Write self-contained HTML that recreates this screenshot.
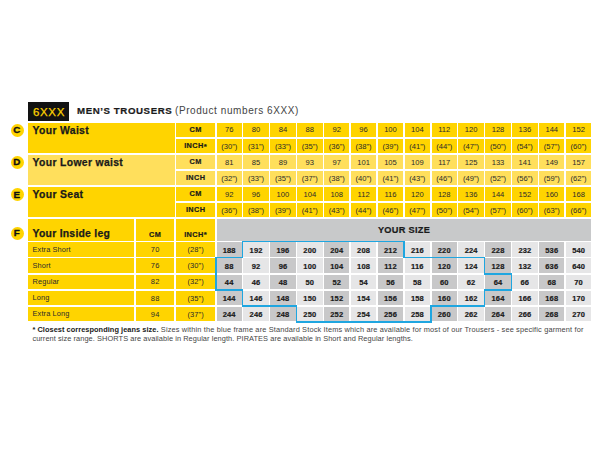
<!DOCTYPE html>
<html><head><meta charset="utf-8"><style>
html,body{margin:0;padding:0;background:#fff;width:610px;height:450px;overflow:hidden;}
body{position:relative;font-family:"Liberation Sans",sans-serif;}
div{position:absolute;}
.t{line-height:0;white-space:nowrap;}
.t b{font-weight:700;color:#1A1A1A;letter-spacing:0.05px;}
sup{font-size:1.05em;vertical-align:0;position:relative;top:0.08em;}
.c{width:12.9px;height:12.9px;border-radius:50%;background:#FFD400;}
</style></head><body>
<div style="left:28.00px;top:102.00px;width:41.00px;height:18.50px;background:#121212;"></div>
<div class="t" style="left:-151.00px;width:400px;text-align:center;top:112.02px;font-size:11.5px;font-weight:400;color:#FFD400;letter-spacing:0.6px;-webkit-text-stroke:0.25px #FFD400;">6XXX</div>
<div class="t" style="left:77.00px;top:110.94px;font-size:9.7px;font-weight:700;color:#1A1A1A;letter-spacing:0.58px;-webkit-text-stroke:0.2px #1A1A1A;">MEN&#8217;S TROUSERS</div>
<div class="t" style="left:175.00px;top:110.73px;font-size:10px;font-weight:400;color:#444444;letter-spacing:0.58px;">(Product numbers 6XXX)</div>
<div class="c" style="left:10.85px;top:123.85px;"></div>
<div class="t" style="left:-183.30px;width:400px;text-align:center;top:130.30px;font-size:9.8px;font-weight:700;color:#111;letter-spacing:0px;-webkit-text-stroke:0.35px #111;">C</div>
<div class="c" style="left:10.85px;top:155.95px;"></div>
<div class="t" style="left:-183.30px;width:400px;text-align:center;top:162.40px;font-size:9.8px;font-weight:700;color:#111;letter-spacing:0px;-webkit-text-stroke:0.35px #111;">D</div>
<div class="c" style="left:10.85px;top:188.15px;"></div>
<div class="t" style="left:-183.30px;width:400px;text-align:center;top:194.60px;font-size:9.8px;font-weight:700;color:#111;letter-spacing:0px;-webkit-text-stroke:0.35px #111;">E</div>
<div class="c" style="left:10.85px;top:226.85px;"></div>
<div class="t" style="left:-183.30px;width:400px;text-align:center;top:233.30px;font-size:9.8px;font-weight:700;color:#111;letter-spacing:0px;-webkit-text-stroke:0.35px #111;">F</div>
<div style="left:28.00px;top:122.50px;width:146.50px;height:30.45px;background:#FFD400;"></div>
<div class="t" style="left:32.60px;top:130.80px;font-size:10.4px;font-weight:700;color:#1A1A1A;letter-spacing:0.33px;-webkit-text-stroke:0.25px #1A1A1A;">Your Waist</div>
<div style="left:176.20px;top:122.50px;width:38.80px;height:14.40px;background:#FFD400;"></div>
<div class="t" style="left:-4.40px;width:400px;text-align:center;top:129.87px;font-size:7.3px;font-weight:700;color:#1A1A1A;letter-spacing:0.4px;-webkit-text-stroke:0.2px #1A1A1A;">CM</div>
<div style="left:216.50px;top:122.50px;width:25.40px;height:14.40px;background:#FFD400;"></div>
<div class="t" style="left:29.20px;width:400px;text-align:center;top:130.47px;font-size:7.6px;font-weight:400;color:#2B2B2B;letter-spacing:0px;">76</div>
<div style="left:243.38px;top:122.50px;width:25.40px;height:14.40px;background:#FFD400;"></div>
<div class="t" style="left:56.08px;width:400px;text-align:center;top:130.47px;font-size:7.6px;font-weight:400;color:#2B2B2B;letter-spacing:0px;">80</div>
<div style="left:270.26px;top:122.50px;width:25.40px;height:14.40px;background:#FFD400;"></div>
<div class="t" style="left:82.96px;width:400px;text-align:center;top:130.47px;font-size:7.6px;font-weight:400;color:#2B2B2B;letter-spacing:0px;">84</div>
<div style="left:297.14px;top:122.50px;width:25.40px;height:14.40px;background:#FFD400;"></div>
<div class="t" style="left:109.84px;width:400px;text-align:center;top:130.47px;font-size:7.6px;font-weight:400;color:#2B2B2B;letter-spacing:0px;">88</div>
<div style="left:324.02px;top:122.50px;width:25.40px;height:14.40px;background:#FFD400;"></div>
<div class="t" style="left:136.72px;width:400px;text-align:center;top:130.47px;font-size:7.6px;font-weight:400;color:#2B2B2B;letter-spacing:0px;">92</div>
<div style="left:350.90px;top:122.50px;width:25.40px;height:14.40px;background:#FFD400;"></div>
<div class="t" style="left:163.60px;width:400px;text-align:center;top:130.47px;font-size:7.6px;font-weight:400;color:#2B2B2B;letter-spacing:0px;">96</div>
<div style="left:377.78px;top:122.50px;width:25.40px;height:14.40px;background:#FFD400;"></div>
<div class="t" style="left:190.48px;width:400px;text-align:center;top:130.47px;font-size:7.6px;font-weight:400;color:#2B2B2B;letter-spacing:0px;">100</div>
<div style="left:404.66px;top:122.50px;width:25.40px;height:14.40px;background:#FFD400;"></div>
<div class="t" style="left:217.36px;width:400px;text-align:center;top:130.47px;font-size:7.6px;font-weight:400;color:#2B2B2B;letter-spacing:0px;">104</div>
<div style="left:431.54px;top:122.50px;width:25.40px;height:14.40px;background:#FFD400;"></div>
<div class="t" style="left:244.24px;width:400px;text-align:center;top:130.47px;font-size:7.6px;font-weight:400;color:#2B2B2B;letter-spacing:0px;">112</div>
<div style="left:458.42px;top:122.50px;width:25.40px;height:14.40px;background:#FFD400;"></div>
<div class="t" style="left:271.12px;width:400px;text-align:center;top:130.47px;font-size:7.6px;font-weight:400;color:#2B2B2B;letter-spacing:0px;">120</div>
<div style="left:485.30px;top:122.50px;width:25.40px;height:14.40px;background:#FFD400;"></div>
<div class="t" style="left:298.00px;width:400px;text-align:center;top:130.47px;font-size:7.6px;font-weight:400;color:#2B2B2B;letter-spacing:0px;">128</div>
<div style="left:512.18px;top:122.50px;width:25.40px;height:14.40px;background:#FFD400;"></div>
<div class="t" style="left:324.88px;width:400px;text-align:center;top:130.47px;font-size:7.6px;font-weight:400;color:#2B2B2B;letter-spacing:0px;">136</div>
<div style="left:539.06px;top:122.50px;width:25.40px;height:14.40px;background:#FFD400;"></div>
<div class="t" style="left:351.76px;width:400px;text-align:center;top:130.47px;font-size:7.6px;font-weight:400;color:#2B2B2B;letter-spacing:0px;">144</div>
<div style="left:565.94px;top:122.50px;width:25.40px;height:14.40px;background:#FFD400;"></div>
<div class="t" style="left:378.64px;width:400px;text-align:center;top:130.47px;font-size:7.6px;font-weight:400;color:#2B2B2B;letter-spacing:0px;">152</div>
<div style="left:176.20px;top:138.55px;width:38.80px;height:14.40px;background:#FFD400;"></div>
<div class="t" style="left:-4.40px;width:400px;text-align:center;top:145.92px;font-size:7.3px;font-weight:700;color:#1A1A1A;letter-spacing:0.4px;-webkit-text-stroke:0.2px #1A1A1A;">INCH<sup>*</sup></div>
<div style="left:216.50px;top:138.55px;width:25.40px;height:14.40px;background:#FFD400;"></div>
<div class="t" style="left:29.20px;width:400px;text-align:center;top:146.52px;font-size:7.6px;font-weight:400;color:#2B2B2B;letter-spacing:0px;">(30&#8221;)</div>
<div style="left:243.38px;top:138.55px;width:25.40px;height:14.40px;background:#FFD400;"></div>
<div class="t" style="left:56.08px;width:400px;text-align:center;top:146.52px;font-size:7.6px;font-weight:400;color:#2B2B2B;letter-spacing:0px;">(31&#8221;)</div>
<div style="left:270.26px;top:138.55px;width:25.40px;height:14.40px;background:#FFD400;"></div>
<div class="t" style="left:82.96px;width:400px;text-align:center;top:146.52px;font-size:7.6px;font-weight:400;color:#2B2B2B;letter-spacing:0px;">(33&#8221;)</div>
<div style="left:297.14px;top:138.55px;width:25.40px;height:14.40px;background:#FFD400;"></div>
<div class="t" style="left:109.84px;width:400px;text-align:center;top:146.52px;font-size:7.6px;font-weight:400;color:#2B2B2B;letter-spacing:0px;">(35&#8221;)</div>
<div style="left:324.02px;top:138.55px;width:25.40px;height:14.40px;background:#FFD400;"></div>
<div class="t" style="left:136.72px;width:400px;text-align:center;top:146.52px;font-size:7.6px;font-weight:400;color:#2B2B2B;letter-spacing:0px;">(36&#8221;)</div>
<div style="left:350.90px;top:138.55px;width:25.40px;height:14.40px;background:#FFD400;"></div>
<div class="t" style="left:163.60px;width:400px;text-align:center;top:146.52px;font-size:7.6px;font-weight:400;color:#2B2B2B;letter-spacing:0px;">(38&#8221;)</div>
<div style="left:377.78px;top:138.55px;width:25.40px;height:14.40px;background:#FFD400;"></div>
<div class="t" style="left:190.48px;width:400px;text-align:center;top:146.52px;font-size:7.6px;font-weight:400;color:#2B2B2B;letter-spacing:0px;">(39&#8221;)</div>
<div style="left:404.66px;top:138.55px;width:25.40px;height:14.40px;background:#FFD400;"></div>
<div class="t" style="left:217.36px;width:400px;text-align:center;top:146.52px;font-size:7.6px;font-weight:400;color:#2B2B2B;letter-spacing:0px;">(41&#8221;)</div>
<div style="left:431.54px;top:138.55px;width:25.40px;height:14.40px;background:#FFD400;"></div>
<div class="t" style="left:244.24px;width:400px;text-align:center;top:146.52px;font-size:7.6px;font-weight:400;color:#2B2B2B;letter-spacing:0px;">(44&#8221;)</div>
<div style="left:458.42px;top:138.55px;width:25.40px;height:14.40px;background:#FFD400;"></div>
<div class="t" style="left:271.12px;width:400px;text-align:center;top:146.52px;font-size:7.6px;font-weight:400;color:#2B2B2B;letter-spacing:0px;">(47&#8221;)</div>
<div style="left:485.30px;top:138.55px;width:25.40px;height:14.40px;background:#FFD400;"></div>
<div class="t" style="left:298.00px;width:400px;text-align:center;top:146.52px;font-size:7.6px;font-weight:400;color:#2B2B2B;letter-spacing:0px;">(50&#8221;)</div>
<div style="left:512.18px;top:138.55px;width:25.40px;height:14.40px;background:#FFD400;"></div>
<div class="t" style="left:324.88px;width:400px;text-align:center;top:146.52px;font-size:7.6px;font-weight:400;color:#2B2B2B;letter-spacing:0px;">(54&#8221;)</div>
<div style="left:539.06px;top:138.55px;width:25.40px;height:14.40px;background:#FFD400;"></div>
<div class="t" style="left:351.76px;width:400px;text-align:center;top:146.52px;font-size:7.6px;font-weight:400;color:#2B2B2B;letter-spacing:0px;">(57&#8221;)</div>
<div style="left:565.94px;top:138.55px;width:25.40px;height:14.40px;background:#FFD400;"></div>
<div class="t" style="left:378.64px;width:400px;text-align:center;top:146.52px;font-size:7.6px;font-weight:400;color:#2B2B2B;letter-spacing:0px;">(60&#8221;)</div>
<div style="left:28.00px;top:154.60px;width:146.50px;height:30.45px;background:#FFDF5C;"></div>
<div class="t" style="left:32.60px;top:162.90px;font-size:10.4px;font-weight:700;color:#1A1A1A;letter-spacing:0.33px;-webkit-text-stroke:0.25px #1A1A1A;">Your Lower waist</div>
<div style="left:176.20px;top:154.60px;width:38.80px;height:14.40px;background:#FFDF5C;"></div>
<div class="t" style="left:-4.40px;width:400px;text-align:center;top:161.97px;font-size:7.3px;font-weight:700;color:#1A1A1A;letter-spacing:0.4px;-webkit-text-stroke:0.2px #1A1A1A;">CM</div>
<div style="left:216.50px;top:154.60px;width:25.40px;height:14.40px;background:#FFDF5C;"></div>
<div class="t" style="left:29.20px;width:400px;text-align:center;top:162.57px;font-size:7.6px;font-weight:400;color:#2B2B2B;letter-spacing:0px;">81</div>
<div style="left:243.38px;top:154.60px;width:25.40px;height:14.40px;background:#FFDF5C;"></div>
<div class="t" style="left:56.08px;width:400px;text-align:center;top:162.57px;font-size:7.6px;font-weight:400;color:#2B2B2B;letter-spacing:0px;">85</div>
<div style="left:270.26px;top:154.60px;width:25.40px;height:14.40px;background:#FFDF5C;"></div>
<div class="t" style="left:82.96px;width:400px;text-align:center;top:162.57px;font-size:7.6px;font-weight:400;color:#2B2B2B;letter-spacing:0px;">89</div>
<div style="left:297.14px;top:154.60px;width:25.40px;height:14.40px;background:#FFDF5C;"></div>
<div class="t" style="left:109.84px;width:400px;text-align:center;top:162.57px;font-size:7.6px;font-weight:400;color:#2B2B2B;letter-spacing:0px;">93</div>
<div style="left:324.02px;top:154.60px;width:25.40px;height:14.40px;background:#FFDF5C;"></div>
<div class="t" style="left:136.72px;width:400px;text-align:center;top:162.57px;font-size:7.6px;font-weight:400;color:#2B2B2B;letter-spacing:0px;">97</div>
<div style="left:350.90px;top:154.60px;width:25.40px;height:14.40px;background:#FFDF5C;"></div>
<div class="t" style="left:163.60px;width:400px;text-align:center;top:162.57px;font-size:7.6px;font-weight:400;color:#2B2B2B;letter-spacing:0px;">101</div>
<div style="left:377.78px;top:154.60px;width:25.40px;height:14.40px;background:#FFDF5C;"></div>
<div class="t" style="left:190.48px;width:400px;text-align:center;top:162.57px;font-size:7.6px;font-weight:400;color:#2B2B2B;letter-spacing:0px;">105</div>
<div style="left:404.66px;top:154.60px;width:25.40px;height:14.40px;background:#FFDF5C;"></div>
<div class="t" style="left:217.36px;width:400px;text-align:center;top:162.57px;font-size:7.6px;font-weight:400;color:#2B2B2B;letter-spacing:0px;">109</div>
<div style="left:431.54px;top:154.60px;width:25.40px;height:14.40px;background:#FFDF5C;"></div>
<div class="t" style="left:244.24px;width:400px;text-align:center;top:162.57px;font-size:7.6px;font-weight:400;color:#2B2B2B;letter-spacing:0px;">117</div>
<div style="left:458.42px;top:154.60px;width:25.40px;height:14.40px;background:#FFDF5C;"></div>
<div class="t" style="left:271.12px;width:400px;text-align:center;top:162.57px;font-size:7.6px;font-weight:400;color:#2B2B2B;letter-spacing:0px;">125</div>
<div style="left:485.30px;top:154.60px;width:25.40px;height:14.40px;background:#FFDF5C;"></div>
<div class="t" style="left:298.00px;width:400px;text-align:center;top:162.57px;font-size:7.6px;font-weight:400;color:#2B2B2B;letter-spacing:0px;">133</div>
<div style="left:512.18px;top:154.60px;width:25.40px;height:14.40px;background:#FFDF5C;"></div>
<div class="t" style="left:324.88px;width:400px;text-align:center;top:162.57px;font-size:7.6px;font-weight:400;color:#2B2B2B;letter-spacing:0px;">141</div>
<div style="left:539.06px;top:154.60px;width:25.40px;height:14.40px;background:#FFDF5C;"></div>
<div class="t" style="left:351.76px;width:400px;text-align:center;top:162.57px;font-size:7.6px;font-weight:400;color:#2B2B2B;letter-spacing:0px;">149</div>
<div style="left:565.94px;top:154.60px;width:25.40px;height:14.40px;background:#FFDF5C;"></div>
<div class="t" style="left:378.64px;width:400px;text-align:center;top:162.57px;font-size:7.6px;font-weight:400;color:#2B2B2B;letter-spacing:0px;">157</div>
<div style="left:176.20px;top:170.65px;width:38.80px;height:14.40px;background:#FFDF5C;"></div>
<div class="t" style="left:-4.40px;width:400px;text-align:center;top:178.02px;font-size:7.3px;font-weight:700;color:#1A1A1A;letter-spacing:0.4px;-webkit-text-stroke:0.2px #1A1A1A;">INCH</div>
<div style="left:216.50px;top:170.65px;width:25.40px;height:14.40px;background:#FFDF5C;"></div>
<div class="t" style="left:29.20px;width:400px;text-align:center;top:178.62px;font-size:7.6px;font-weight:400;color:#2B2B2B;letter-spacing:0px;">(32&#8221;)</div>
<div style="left:243.38px;top:170.65px;width:25.40px;height:14.40px;background:#FFDF5C;"></div>
<div class="t" style="left:56.08px;width:400px;text-align:center;top:178.62px;font-size:7.6px;font-weight:400;color:#2B2B2B;letter-spacing:0px;">(33&#8221;)</div>
<div style="left:270.26px;top:170.65px;width:25.40px;height:14.40px;background:#FFDF5C;"></div>
<div class="t" style="left:82.96px;width:400px;text-align:center;top:178.62px;font-size:7.6px;font-weight:400;color:#2B2B2B;letter-spacing:0px;">(35&#8221;)</div>
<div style="left:297.14px;top:170.65px;width:25.40px;height:14.40px;background:#FFDF5C;"></div>
<div class="t" style="left:109.84px;width:400px;text-align:center;top:178.62px;font-size:7.6px;font-weight:400;color:#2B2B2B;letter-spacing:0px;">(37&#8221;)</div>
<div style="left:324.02px;top:170.65px;width:25.40px;height:14.40px;background:#FFDF5C;"></div>
<div class="t" style="left:136.72px;width:400px;text-align:center;top:178.62px;font-size:7.6px;font-weight:400;color:#2B2B2B;letter-spacing:0px;">(38&#8221;)</div>
<div style="left:350.90px;top:170.65px;width:25.40px;height:14.40px;background:#FFDF5C;"></div>
<div class="t" style="left:163.60px;width:400px;text-align:center;top:178.62px;font-size:7.6px;font-weight:400;color:#2B2B2B;letter-spacing:0px;">(40&#8221;)</div>
<div style="left:377.78px;top:170.65px;width:25.40px;height:14.40px;background:#FFDF5C;"></div>
<div class="t" style="left:190.48px;width:400px;text-align:center;top:178.62px;font-size:7.6px;font-weight:400;color:#2B2B2B;letter-spacing:0px;">(41&#8221;)</div>
<div style="left:404.66px;top:170.65px;width:25.40px;height:14.40px;background:#FFDF5C;"></div>
<div class="t" style="left:217.36px;width:400px;text-align:center;top:178.62px;font-size:7.6px;font-weight:400;color:#2B2B2B;letter-spacing:0px;">(43&#8221;)</div>
<div style="left:431.54px;top:170.65px;width:25.40px;height:14.40px;background:#FFDF5C;"></div>
<div class="t" style="left:244.24px;width:400px;text-align:center;top:178.62px;font-size:7.6px;font-weight:400;color:#2B2B2B;letter-spacing:0px;">(46&#8221;)</div>
<div style="left:458.42px;top:170.65px;width:25.40px;height:14.40px;background:#FFDF5C;"></div>
<div class="t" style="left:271.12px;width:400px;text-align:center;top:178.62px;font-size:7.6px;font-weight:400;color:#2B2B2B;letter-spacing:0px;">(49&#8221;)</div>
<div style="left:485.30px;top:170.65px;width:25.40px;height:14.40px;background:#FFDF5C;"></div>
<div class="t" style="left:298.00px;width:400px;text-align:center;top:178.62px;font-size:7.6px;font-weight:400;color:#2B2B2B;letter-spacing:0px;">(52&#8221;)</div>
<div style="left:512.18px;top:170.65px;width:25.40px;height:14.40px;background:#FFDF5C;"></div>
<div class="t" style="left:324.88px;width:400px;text-align:center;top:178.62px;font-size:7.6px;font-weight:400;color:#2B2B2B;letter-spacing:0px;">(56&#8221;)</div>
<div style="left:539.06px;top:170.65px;width:25.40px;height:14.40px;background:#FFDF5C;"></div>
<div class="t" style="left:351.76px;width:400px;text-align:center;top:178.62px;font-size:7.6px;font-weight:400;color:#2B2B2B;letter-spacing:0px;">(59&#8221;)</div>
<div style="left:565.94px;top:170.65px;width:25.40px;height:14.40px;background:#FFDF5C;"></div>
<div class="t" style="left:378.64px;width:400px;text-align:center;top:178.62px;font-size:7.6px;font-weight:400;color:#2B2B2B;letter-spacing:0px;">(62&#8221;)</div>
<div style="left:28.00px;top:186.70px;width:146.50px;height:30.45px;background:#FFD400;"></div>
<div class="t" style="left:32.60px;top:195.00px;font-size:10.4px;font-weight:700;color:#1A1A1A;letter-spacing:0.33px;-webkit-text-stroke:0.25px #1A1A1A;">Your Seat</div>
<div style="left:176.20px;top:186.70px;width:38.80px;height:14.40px;background:#FFD400;"></div>
<div class="t" style="left:-4.40px;width:400px;text-align:center;top:194.07px;font-size:7.3px;font-weight:700;color:#1A1A1A;letter-spacing:0.4px;-webkit-text-stroke:0.2px #1A1A1A;">CM</div>
<div style="left:216.50px;top:186.70px;width:25.40px;height:14.40px;background:#FFD400;"></div>
<div class="t" style="left:29.20px;width:400px;text-align:center;top:194.67px;font-size:7.6px;font-weight:400;color:#2B2B2B;letter-spacing:0px;">92</div>
<div style="left:243.38px;top:186.70px;width:25.40px;height:14.40px;background:#FFD400;"></div>
<div class="t" style="left:56.08px;width:400px;text-align:center;top:194.67px;font-size:7.6px;font-weight:400;color:#2B2B2B;letter-spacing:0px;">96</div>
<div style="left:270.26px;top:186.70px;width:25.40px;height:14.40px;background:#FFD400;"></div>
<div class="t" style="left:82.96px;width:400px;text-align:center;top:194.67px;font-size:7.6px;font-weight:400;color:#2B2B2B;letter-spacing:0px;">100</div>
<div style="left:297.14px;top:186.70px;width:25.40px;height:14.40px;background:#FFD400;"></div>
<div class="t" style="left:109.84px;width:400px;text-align:center;top:194.67px;font-size:7.6px;font-weight:400;color:#2B2B2B;letter-spacing:0px;">104</div>
<div style="left:324.02px;top:186.70px;width:25.40px;height:14.40px;background:#FFD400;"></div>
<div class="t" style="left:136.72px;width:400px;text-align:center;top:194.67px;font-size:7.6px;font-weight:400;color:#2B2B2B;letter-spacing:0px;">108</div>
<div style="left:350.90px;top:186.70px;width:25.40px;height:14.40px;background:#FFD400;"></div>
<div class="t" style="left:163.60px;width:400px;text-align:center;top:194.67px;font-size:7.6px;font-weight:400;color:#2B2B2B;letter-spacing:0px;">112</div>
<div style="left:377.78px;top:186.70px;width:25.40px;height:14.40px;background:#FFD400;"></div>
<div class="t" style="left:190.48px;width:400px;text-align:center;top:194.67px;font-size:7.6px;font-weight:400;color:#2B2B2B;letter-spacing:0px;">116</div>
<div style="left:404.66px;top:186.70px;width:25.40px;height:14.40px;background:#FFD400;"></div>
<div class="t" style="left:217.36px;width:400px;text-align:center;top:194.67px;font-size:7.6px;font-weight:400;color:#2B2B2B;letter-spacing:0px;">120</div>
<div style="left:431.54px;top:186.70px;width:25.40px;height:14.40px;background:#FFD400;"></div>
<div class="t" style="left:244.24px;width:400px;text-align:center;top:194.67px;font-size:7.6px;font-weight:400;color:#2B2B2B;letter-spacing:0px;">128</div>
<div style="left:458.42px;top:186.70px;width:25.40px;height:14.40px;background:#FFD400;"></div>
<div class="t" style="left:271.12px;width:400px;text-align:center;top:194.67px;font-size:7.6px;font-weight:400;color:#2B2B2B;letter-spacing:0px;">136</div>
<div style="left:485.30px;top:186.70px;width:25.40px;height:14.40px;background:#FFD400;"></div>
<div class="t" style="left:298.00px;width:400px;text-align:center;top:194.67px;font-size:7.6px;font-weight:400;color:#2B2B2B;letter-spacing:0px;">144</div>
<div style="left:512.18px;top:186.70px;width:25.40px;height:14.40px;background:#FFD400;"></div>
<div class="t" style="left:324.88px;width:400px;text-align:center;top:194.67px;font-size:7.6px;font-weight:400;color:#2B2B2B;letter-spacing:0px;">152</div>
<div style="left:539.06px;top:186.70px;width:25.40px;height:14.40px;background:#FFD400;"></div>
<div class="t" style="left:351.76px;width:400px;text-align:center;top:194.67px;font-size:7.6px;font-weight:400;color:#2B2B2B;letter-spacing:0px;">160</div>
<div style="left:565.94px;top:186.70px;width:25.40px;height:14.40px;background:#FFD400;"></div>
<div class="t" style="left:378.64px;width:400px;text-align:center;top:194.67px;font-size:7.6px;font-weight:400;color:#2B2B2B;letter-spacing:0px;">168</div>
<div style="left:176.20px;top:202.75px;width:38.80px;height:14.40px;background:#FFD400;"></div>
<div class="t" style="left:-4.40px;width:400px;text-align:center;top:210.12px;font-size:7.3px;font-weight:700;color:#1A1A1A;letter-spacing:0.4px;-webkit-text-stroke:0.2px #1A1A1A;">INCH</div>
<div style="left:216.50px;top:202.75px;width:25.40px;height:14.40px;background:#FFD400;"></div>
<div class="t" style="left:29.20px;width:400px;text-align:center;top:210.72px;font-size:7.6px;font-weight:400;color:#2B2B2B;letter-spacing:0px;">(36&#8221;)</div>
<div style="left:243.38px;top:202.75px;width:25.40px;height:14.40px;background:#FFD400;"></div>
<div class="t" style="left:56.08px;width:400px;text-align:center;top:210.72px;font-size:7.6px;font-weight:400;color:#2B2B2B;letter-spacing:0px;">(38&#8221;)</div>
<div style="left:270.26px;top:202.75px;width:25.40px;height:14.40px;background:#FFD400;"></div>
<div class="t" style="left:82.96px;width:400px;text-align:center;top:210.72px;font-size:7.6px;font-weight:400;color:#2B2B2B;letter-spacing:0px;">(39&#8221;)</div>
<div style="left:297.14px;top:202.75px;width:25.40px;height:14.40px;background:#FFD400;"></div>
<div class="t" style="left:109.84px;width:400px;text-align:center;top:210.72px;font-size:7.6px;font-weight:400;color:#2B2B2B;letter-spacing:0px;">(41&#8221;)</div>
<div style="left:324.02px;top:202.75px;width:25.40px;height:14.40px;background:#FFD400;"></div>
<div class="t" style="left:136.72px;width:400px;text-align:center;top:210.72px;font-size:7.6px;font-weight:400;color:#2B2B2B;letter-spacing:0px;">(43&#8221;)</div>
<div style="left:350.90px;top:202.75px;width:25.40px;height:14.40px;background:#FFD400;"></div>
<div class="t" style="left:163.60px;width:400px;text-align:center;top:210.72px;font-size:7.6px;font-weight:400;color:#2B2B2B;letter-spacing:0px;">(44&#8221;)</div>
<div style="left:377.78px;top:202.75px;width:25.40px;height:14.40px;background:#FFD400;"></div>
<div class="t" style="left:190.48px;width:400px;text-align:center;top:210.72px;font-size:7.6px;font-weight:400;color:#2B2B2B;letter-spacing:0px;">(46&#8221;)</div>
<div style="left:404.66px;top:202.75px;width:25.40px;height:14.40px;background:#FFD400;"></div>
<div class="t" style="left:217.36px;width:400px;text-align:center;top:210.72px;font-size:7.6px;font-weight:400;color:#2B2B2B;letter-spacing:0px;">(47&#8221;)</div>
<div style="left:431.54px;top:202.75px;width:25.40px;height:14.40px;background:#FFD400;"></div>
<div class="t" style="left:244.24px;width:400px;text-align:center;top:210.72px;font-size:7.6px;font-weight:400;color:#2B2B2B;letter-spacing:0px;">(50&#8221;)</div>
<div style="left:458.42px;top:202.75px;width:25.40px;height:14.40px;background:#FFD400;"></div>
<div class="t" style="left:271.12px;width:400px;text-align:center;top:210.72px;font-size:7.6px;font-weight:400;color:#2B2B2B;letter-spacing:0px;">(54&#8221;)</div>
<div style="left:485.30px;top:202.75px;width:25.40px;height:14.40px;background:#FFD400;"></div>
<div class="t" style="left:298.00px;width:400px;text-align:center;top:210.72px;font-size:7.6px;font-weight:400;color:#2B2B2B;letter-spacing:0px;">(57&#8221;)</div>
<div style="left:512.18px;top:202.75px;width:25.40px;height:14.40px;background:#FFD400;"></div>
<div class="t" style="left:324.88px;width:400px;text-align:center;top:210.72px;font-size:7.6px;font-weight:400;color:#2B2B2B;letter-spacing:0px;">(60&#8221;)</div>
<div style="left:539.06px;top:202.75px;width:25.40px;height:14.40px;background:#FFD400;"></div>
<div class="t" style="left:351.76px;width:400px;text-align:center;top:210.72px;font-size:7.6px;font-weight:400;color:#2B2B2B;letter-spacing:0px;">(63&#8221;)</div>
<div style="left:565.94px;top:202.75px;width:25.40px;height:14.40px;background:#FFD400;"></div>
<div class="t" style="left:378.64px;width:400px;text-align:center;top:210.72px;font-size:7.6px;font-weight:400;color:#2B2B2B;letter-spacing:0px;">(66&#8221;)</div>
<div style="left:28.00px;top:218.80px;width:106.00px;height:21.90px;background:#FFD400;"></div>
<div class="t" style="left:32.60px;top:233.50px;font-size:10.4px;font-weight:700;color:#1A1A1A;letter-spacing:0.25px;-webkit-text-stroke:0.25px #1A1A1A;">Your Inside leg</div>
<div style="left:135.80px;top:218.80px;width:38.70px;height:21.90px;background:#FFD400;"></div>
<div class="t" style="left:-44.85px;width:400px;text-align:center;top:234.57px;font-size:7.3px;font-weight:700;color:#1A1A1A;letter-spacing:0.4px;-webkit-text-stroke:0.2px #1A1A1A;">CM</div>
<div style="left:176.20px;top:218.80px;width:38.80px;height:21.90px;background:#FFD400;"></div>
<div class="t" style="left:-4.40px;width:400px;text-align:center;top:234.57px;font-size:7.3px;font-weight:700;color:#1A1A1A;letter-spacing:0.4px;-webkit-text-stroke:0.2px #1A1A1A;">INCH<sup>*</sup></div>
<div style="left:216.50px;top:218.80px;width:374.84px;height:21.90px;background:#C8C9CA;"></div>
<div class="t" style="left:204.00px;width:400px;text-align:center;top:230.01px;font-size:9.2px;font-weight:700;color:#1A1A1A;letter-spacing:0.3px;-webkit-text-stroke:0.2px #1A1A1A;">YOUR SIZE</div>
<div style="left:28.00px;top:242.30px;width:106.00px;height:14.50px;background:#FFD400;"></div>
<div class="t" style="left:32.60px;top:249.64px;font-size:7.4px;font-weight:400;color:#2B2B2B;letter-spacing:0.1px;">Extra Short</div>
<div style="left:135.80px;top:242.30px;width:38.70px;height:14.50px;background:#FFD400;"></div>
<div class="t" style="left:-44.85px;width:400px;text-align:center;top:250.20px;font-size:7.5px;font-weight:400;color:#2B2B2B;letter-spacing:0.12px;">70</div>
<div style="left:176.20px;top:242.30px;width:38.80px;height:14.50px;background:#FFD400;"></div>
<div class="t" style="left:-4.40px;width:400px;text-align:center;top:250.20px;font-size:7.5px;font-weight:400;color:#2B2B2B;letter-spacing:0.12px;">(28&#8221;)</div>
<div style="left:216.50px;top:242.30px;width:25.40px;height:14.50px;background:#C8C8C9;"></div>
<div class="t" style="left:29.20px;width:400px;text-align:center;top:250.70px;font-size:7.5px;font-weight:700;color:#1A1A1A;letter-spacing:0.15px;-webkit-text-stroke:0.2px #1A1A1A;">188</div>
<div style="left:243.38px;top:242.30px;width:25.40px;height:14.50px;background:#E6E6E7;"></div>
<div class="t" style="left:56.08px;width:400px;text-align:center;top:250.70px;font-size:7.5px;font-weight:700;color:#1A1A1A;letter-spacing:0.15px;-webkit-text-stroke:0.2px #1A1A1A;">192</div>
<div style="left:270.26px;top:242.30px;width:25.40px;height:14.50px;background:#C8C8C9;"></div>
<div class="t" style="left:82.96px;width:400px;text-align:center;top:250.70px;font-size:7.5px;font-weight:700;color:#1A1A1A;letter-spacing:0.15px;-webkit-text-stroke:0.2px #1A1A1A;">196</div>
<div style="left:297.14px;top:242.30px;width:25.40px;height:14.50px;background:#E6E6E7;"></div>
<div class="t" style="left:109.84px;width:400px;text-align:center;top:250.70px;font-size:7.5px;font-weight:700;color:#1A1A1A;letter-spacing:0.15px;-webkit-text-stroke:0.2px #1A1A1A;">200</div>
<div style="left:324.02px;top:242.30px;width:25.40px;height:14.50px;background:#C8C8C9;"></div>
<div class="t" style="left:136.72px;width:400px;text-align:center;top:250.70px;font-size:7.5px;font-weight:700;color:#1A1A1A;letter-spacing:0.15px;-webkit-text-stroke:0.2px #1A1A1A;">204</div>
<div style="left:350.90px;top:242.30px;width:25.40px;height:14.50px;background:#E6E6E7;"></div>
<div class="t" style="left:163.60px;width:400px;text-align:center;top:250.70px;font-size:7.5px;font-weight:700;color:#1A1A1A;letter-spacing:0.15px;-webkit-text-stroke:0.2px #1A1A1A;">208</div>
<div style="left:377.78px;top:242.30px;width:25.40px;height:14.50px;background:#C8C8C9;"></div>
<div class="t" style="left:190.48px;width:400px;text-align:center;top:250.70px;font-size:7.5px;font-weight:700;color:#1A1A1A;letter-spacing:0.15px;-webkit-text-stroke:0.2px #1A1A1A;">212</div>
<div style="left:404.66px;top:242.30px;width:25.40px;height:14.50px;background:#E6E6E7;"></div>
<div class="t" style="left:217.36px;width:400px;text-align:center;top:250.70px;font-size:7.5px;font-weight:700;color:#1A1A1A;letter-spacing:0.15px;-webkit-text-stroke:0.2px #1A1A1A;">216</div>
<div style="left:431.54px;top:242.30px;width:25.40px;height:14.50px;background:#C8C8C9;"></div>
<div class="t" style="left:244.24px;width:400px;text-align:center;top:250.70px;font-size:7.5px;font-weight:700;color:#1A1A1A;letter-spacing:0.15px;-webkit-text-stroke:0.2px #1A1A1A;">220</div>
<div style="left:458.42px;top:242.30px;width:25.40px;height:14.50px;background:#E6E6E7;"></div>
<div class="t" style="left:271.12px;width:400px;text-align:center;top:250.70px;font-size:7.5px;font-weight:700;color:#1A1A1A;letter-spacing:0.15px;-webkit-text-stroke:0.2px #1A1A1A;">224</div>
<div style="left:485.30px;top:242.30px;width:25.40px;height:14.50px;background:#C8C8C9;"></div>
<div class="t" style="left:298.00px;width:400px;text-align:center;top:250.70px;font-size:7.5px;font-weight:700;color:#1A1A1A;letter-spacing:0.15px;-webkit-text-stroke:0.2px #1A1A1A;">228</div>
<div style="left:512.18px;top:242.30px;width:25.40px;height:14.50px;background:#E6E6E7;"></div>
<div class="t" style="left:324.88px;width:400px;text-align:center;top:250.70px;font-size:7.5px;font-weight:700;color:#1A1A1A;letter-spacing:0.15px;-webkit-text-stroke:0.2px #1A1A1A;">232</div>
<div style="left:539.06px;top:242.30px;width:25.40px;height:14.50px;background:#C8C8C9;"></div>
<div class="t" style="left:351.76px;width:400px;text-align:center;top:250.70px;font-size:7.5px;font-weight:700;color:#1A1A1A;letter-spacing:0.15px;-webkit-text-stroke:0.2px #1A1A1A;">536</div>
<div style="left:565.94px;top:242.30px;width:25.40px;height:14.50px;background:#E6E6E7;"></div>
<div class="t" style="left:378.64px;width:400px;text-align:center;top:250.70px;font-size:7.5px;font-weight:700;color:#1A1A1A;letter-spacing:0.15px;-webkit-text-stroke:0.2px #1A1A1A;">540</div>
<div style="left:28.00px;top:258.43px;width:106.00px;height:14.50px;background:#FFD400;"></div>
<div class="t" style="left:32.60px;top:265.77px;font-size:7.4px;font-weight:400;color:#2B2B2B;letter-spacing:0.1px;">Short</div>
<div style="left:135.80px;top:258.43px;width:38.70px;height:14.50px;background:#FFD400;"></div>
<div class="t" style="left:-44.85px;width:400px;text-align:center;top:266.33px;font-size:7.5px;font-weight:400;color:#2B2B2B;letter-spacing:0.12px;">76</div>
<div style="left:176.20px;top:258.43px;width:38.80px;height:14.50px;background:#FFD400;"></div>
<div class="t" style="left:-4.40px;width:400px;text-align:center;top:266.33px;font-size:7.5px;font-weight:400;color:#2B2B2B;letter-spacing:0.12px;">(30&#8221;)</div>
<div style="left:216.50px;top:258.43px;width:25.40px;height:14.50px;background:#C8C8C9;"></div>
<div class="t" style="left:29.20px;width:400px;text-align:center;top:266.83px;font-size:7.5px;font-weight:700;color:#1A1A1A;letter-spacing:0.15px;-webkit-text-stroke:0.2px #1A1A1A;">88</div>
<div style="left:243.38px;top:258.43px;width:25.40px;height:14.50px;background:#E6E6E7;"></div>
<div class="t" style="left:56.08px;width:400px;text-align:center;top:266.83px;font-size:7.5px;font-weight:700;color:#1A1A1A;letter-spacing:0.15px;-webkit-text-stroke:0.2px #1A1A1A;">92</div>
<div style="left:270.26px;top:258.43px;width:25.40px;height:14.50px;background:#C8C8C9;"></div>
<div class="t" style="left:82.96px;width:400px;text-align:center;top:266.83px;font-size:7.5px;font-weight:700;color:#1A1A1A;letter-spacing:0.15px;-webkit-text-stroke:0.2px #1A1A1A;">96</div>
<div style="left:297.14px;top:258.43px;width:25.40px;height:14.50px;background:#E6E6E7;"></div>
<div class="t" style="left:109.84px;width:400px;text-align:center;top:266.83px;font-size:7.5px;font-weight:700;color:#1A1A1A;letter-spacing:0.15px;-webkit-text-stroke:0.2px #1A1A1A;">100</div>
<div style="left:324.02px;top:258.43px;width:25.40px;height:14.50px;background:#C8C8C9;"></div>
<div class="t" style="left:136.72px;width:400px;text-align:center;top:266.83px;font-size:7.5px;font-weight:700;color:#1A1A1A;letter-spacing:0.15px;-webkit-text-stroke:0.2px #1A1A1A;">104</div>
<div style="left:350.90px;top:258.43px;width:25.40px;height:14.50px;background:#E6E6E7;"></div>
<div class="t" style="left:163.60px;width:400px;text-align:center;top:266.83px;font-size:7.5px;font-weight:700;color:#1A1A1A;letter-spacing:0.15px;-webkit-text-stroke:0.2px #1A1A1A;">108</div>
<div style="left:377.78px;top:258.43px;width:25.40px;height:14.50px;background:#C8C8C9;"></div>
<div class="t" style="left:190.48px;width:400px;text-align:center;top:266.83px;font-size:7.5px;font-weight:700;color:#1A1A1A;letter-spacing:0.15px;-webkit-text-stroke:0.2px #1A1A1A;">112</div>
<div style="left:404.66px;top:258.43px;width:25.40px;height:14.50px;background:#E6E6E7;"></div>
<div class="t" style="left:217.36px;width:400px;text-align:center;top:266.83px;font-size:7.5px;font-weight:700;color:#1A1A1A;letter-spacing:0.15px;-webkit-text-stroke:0.2px #1A1A1A;">116</div>
<div style="left:431.54px;top:258.43px;width:25.40px;height:14.50px;background:#C8C8C9;"></div>
<div class="t" style="left:244.24px;width:400px;text-align:center;top:266.83px;font-size:7.5px;font-weight:700;color:#1A1A1A;letter-spacing:0.15px;-webkit-text-stroke:0.2px #1A1A1A;">120</div>
<div style="left:458.42px;top:258.43px;width:25.40px;height:14.50px;background:#E6E6E7;"></div>
<div class="t" style="left:271.12px;width:400px;text-align:center;top:266.83px;font-size:7.5px;font-weight:700;color:#1A1A1A;letter-spacing:0.15px;-webkit-text-stroke:0.2px #1A1A1A;">124</div>
<div style="left:485.30px;top:258.43px;width:25.40px;height:14.50px;background:#C8C8C9;"></div>
<div class="t" style="left:298.00px;width:400px;text-align:center;top:266.83px;font-size:7.5px;font-weight:700;color:#1A1A1A;letter-spacing:0.15px;-webkit-text-stroke:0.2px #1A1A1A;">128</div>
<div style="left:512.18px;top:258.43px;width:25.40px;height:14.50px;background:#E6E6E7;"></div>
<div class="t" style="left:324.88px;width:400px;text-align:center;top:266.83px;font-size:7.5px;font-weight:700;color:#1A1A1A;letter-spacing:0.15px;-webkit-text-stroke:0.2px #1A1A1A;">132</div>
<div style="left:539.06px;top:258.43px;width:25.40px;height:14.50px;background:#C8C8C9;"></div>
<div class="t" style="left:351.76px;width:400px;text-align:center;top:266.83px;font-size:7.5px;font-weight:700;color:#1A1A1A;letter-spacing:0.15px;-webkit-text-stroke:0.2px #1A1A1A;">636</div>
<div style="left:565.94px;top:258.43px;width:25.40px;height:14.50px;background:#E6E6E7;"></div>
<div class="t" style="left:378.64px;width:400px;text-align:center;top:266.83px;font-size:7.5px;font-weight:700;color:#1A1A1A;letter-spacing:0.15px;-webkit-text-stroke:0.2px #1A1A1A;">640</div>
<div style="left:28.00px;top:274.56px;width:106.00px;height:14.50px;background:#FFD400;"></div>
<div class="t" style="left:32.60px;top:281.90px;font-size:7.4px;font-weight:400;color:#2B2B2B;letter-spacing:0.1px;">Regular</div>
<div style="left:135.80px;top:274.56px;width:38.70px;height:14.50px;background:#FFD400;"></div>
<div class="t" style="left:-44.85px;width:400px;text-align:center;top:282.46px;font-size:7.5px;font-weight:400;color:#2B2B2B;letter-spacing:0.12px;">82</div>
<div style="left:176.20px;top:274.56px;width:38.80px;height:14.50px;background:#FFD400;"></div>
<div class="t" style="left:-4.40px;width:400px;text-align:center;top:282.46px;font-size:7.5px;font-weight:400;color:#2B2B2B;letter-spacing:0.12px;">(32&#8221;)</div>
<div style="left:216.50px;top:274.56px;width:25.40px;height:14.50px;background:#C8C8C9;"></div>
<div class="t" style="left:29.20px;width:400px;text-align:center;top:282.96px;font-size:7.5px;font-weight:700;color:#1A1A1A;letter-spacing:0.15px;-webkit-text-stroke:0.2px #1A1A1A;">44</div>
<div style="left:243.38px;top:274.56px;width:25.40px;height:14.50px;background:#E6E6E7;"></div>
<div class="t" style="left:56.08px;width:400px;text-align:center;top:282.96px;font-size:7.5px;font-weight:700;color:#1A1A1A;letter-spacing:0.15px;-webkit-text-stroke:0.2px #1A1A1A;">46</div>
<div style="left:270.26px;top:274.56px;width:25.40px;height:14.50px;background:#C8C8C9;"></div>
<div class="t" style="left:82.96px;width:400px;text-align:center;top:282.96px;font-size:7.5px;font-weight:700;color:#1A1A1A;letter-spacing:0.15px;-webkit-text-stroke:0.2px #1A1A1A;">48</div>
<div style="left:297.14px;top:274.56px;width:25.40px;height:14.50px;background:#E6E6E7;"></div>
<div class="t" style="left:109.84px;width:400px;text-align:center;top:282.96px;font-size:7.5px;font-weight:700;color:#1A1A1A;letter-spacing:0.15px;-webkit-text-stroke:0.2px #1A1A1A;">50</div>
<div style="left:324.02px;top:274.56px;width:25.40px;height:14.50px;background:#C8C8C9;"></div>
<div class="t" style="left:136.72px;width:400px;text-align:center;top:282.96px;font-size:7.5px;font-weight:700;color:#1A1A1A;letter-spacing:0.15px;-webkit-text-stroke:0.2px #1A1A1A;">52</div>
<div style="left:350.90px;top:274.56px;width:25.40px;height:14.50px;background:#E6E6E7;"></div>
<div class="t" style="left:163.60px;width:400px;text-align:center;top:282.96px;font-size:7.5px;font-weight:700;color:#1A1A1A;letter-spacing:0.15px;-webkit-text-stroke:0.2px #1A1A1A;">54</div>
<div style="left:377.78px;top:274.56px;width:25.40px;height:14.50px;background:#C8C8C9;"></div>
<div class="t" style="left:190.48px;width:400px;text-align:center;top:282.96px;font-size:7.5px;font-weight:700;color:#1A1A1A;letter-spacing:0.15px;-webkit-text-stroke:0.2px #1A1A1A;">56</div>
<div style="left:404.66px;top:274.56px;width:25.40px;height:14.50px;background:#E6E6E7;"></div>
<div class="t" style="left:217.36px;width:400px;text-align:center;top:282.96px;font-size:7.5px;font-weight:700;color:#1A1A1A;letter-spacing:0.15px;-webkit-text-stroke:0.2px #1A1A1A;">58</div>
<div style="left:431.54px;top:274.56px;width:25.40px;height:14.50px;background:#C8C8C9;"></div>
<div class="t" style="left:244.24px;width:400px;text-align:center;top:282.96px;font-size:7.5px;font-weight:700;color:#1A1A1A;letter-spacing:0.15px;-webkit-text-stroke:0.2px #1A1A1A;">60</div>
<div style="left:458.42px;top:274.56px;width:25.40px;height:14.50px;background:#E6E6E7;"></div>
<div class="t" style="left:271.12px;width:400px;text-align:center;top:282.96px;font-size:7.5px;font-weight:700;color:#1A1A1A;letter-spacing:0.15px;-webkit-text-stroke:0.2px #1A1A1A;">62</div>
<div style="left:485.30px;top:274.56px;width:25.40px;height:14.50px;background:#C8C8C9;"></div>
<div class="t" style="left:298.00px;width:400px;text-align:center;top:282.96px;font-size:7.5px;font-weight:700;color:#1A1A1A;letter-spacing:0.15px;-webkit-text-stroke:0.2px #1A1A1A;">64</div>
<div style="left:512.18px;top:274.56px;width:25.40px;height:14.50px;background:#E6E6E7;"></div>
<div class="t" style="left:324.88px;width:400px;text-align:center;top:282.96px;font-size:7.5px;font-weight:700;color:#1A1A1A;letter-spacing:0.15px;-webkit-text-stroke:0.2px #1A1A1A;">66</div>
<div style="left:539.06px;top:274.56px;width:25.40px;height:14.50px;background:#C8C8C9;"></div>
<div class="t" style="left:351.76px;width:400px;text-align:center;top:282.96px;font-size:7.5px;font-weight:700;color:#1A1A1A;letter-spacing:0.15px;-webkit-text-stroke:0.2px #1A1A1A;">68</div>
<div style="left:565.94px;top:274.56px;width:25.40px;height:14.50px;background:#E6E6E7;"></div>
<div class="t" style="left:378.64px;width:400px;text-align:center;top:282.96px;font-size:7.5px;font-weight:700;color:#1A1A1A;letter-spacing:0.15px;-webkit-text-stroke:0.2px #1A1A1A;">70</div>
<div style="left:28.00px;top:290.69px;width:106.00px;height:14.50px;background:#FFD400;"></div>
<div class="t" style="left:32.60px;top:298.03px;font-size:7.4px;font-weight:400;color:#2B2B2B;letter-spacing:0.1px;">Long</div>
<div style="left:135.80px;top:290.69px;width:38.70px;height:14.50px;background:#FFD400;"></div>
<div class="t" style="left:-44.85px;width:400px;text-align:center;top:298.59px;font-size:7.5px;font-weight:400;color:#2B2B2B;letter-spacing:0.12px;">88</div>
<div style="left:176.20px;top:290.69px;width:38.80px;height:14.50px;background:#FFD400;"></div>
<div class="t" style="left:-4.40px;width:400px;text-align:center;top:298.59px;font-size:7.5px;font-weight:400;color:#2B2B2B;letter-spacing:0.12px;">(35&#8221;)</div>
<div style="left:216.50px;top:290.69px;width:25.40px;height:14.50px;background:#C8C8C9;"></div>
<div class="t" style="left:29.20px;width:400px;text-align:center;top:299.09px;font-size:7.5px;font-weight:700;color:#1A1A1A;letter-spacing:0.15px;-webkit-text-stroke:0.2px #1A1A1A;">144</div>
<div style="left:243.38px;top:290.69px;width:25.40px;height:14.50px;background:#E6E6E7;"></div>
<div class="t" style="left:56.08px;width:400px;text-align:center;top:299.09px;font-size:7.5px;font-weight:700;color:#1A1A1A;letter-spacing:0.15px;-webkit-text-stroke:0.2px #1A1A1A;">146</div>
<div style="left:270.26px;top:290.69px;width:25.40px;height:14.50px;background:#C8C8C9;"></div>
<div class="t" style="left:82.96px;width:400px;text-align:center;top:299.09px;font-size:7.5px;font-weight:700;color:#1A1A1A;letter-spacing:0.15px;-webkit-text-stroke:0.2px #1A1A1A;">148</div>
<div style="left:297.14px;top:290.69px;width:25.40px;height:14.50px;background:#E6E6E7;"></div>
<div class="t" style="left:109.84px;width:400px;text-align:center;top:299.09px;font-size:7.5px;font-weight:700;color:#1A1A1A;letter-spacing:0.15px;-webkit-text-stroke:0.2px #1A1A1A;">150</div>
<div style="left:324.02px;top:290.69px;width:25.40px;height:14.50px;background:#C8C8C9;"></div>
<div class="t" style="left:136.72px;width:400px;text-align:center;top:299.09px;font-size:7.5px;font-weight:700;color:#1A1A1A;letter-spacing:0.15px;-webkit-text-stroke:0.2px #1A1A1A;">152</div>
<div style="left:350.90px;top:290.69px;width:25.40px;height:14.50px;background:#E6E6E7;"></div>
<div class="t" style="left:163.60px;width:400px;text-align:center;top:299.09px;font-size:7.5px;font-weight:700;color:#1A1A1A;letter-spacing:0.15px;-webkit-text-stroke:0.2px #1A1A1A;">154</div>
<div style="left:377.78px;top:290.69px;width:25.40px;height:14.50px;background:#C8C8C9;"></div>
<div class="t" style="left:190.48px;width:400px;text-align:center;top:299.09px;font-size:7.5px;font-weight:700;color:#1A1A1A;letter-spacing:0.15px;-webkit-text-stroke:0.2px #1A1A1A;">156</div>
<div style="left:404.66px;top:290.69px;width:25.40px;height:14.50px;background:#E6E6E7;"></div>
<div class="t" style="left:217.36px;width:400px;text-align:center;top:299.09px;font-size:7.5px;font-weight:700;color:#1A1A1A;letter-spacing:0.15px;-webkit-text-stroke:0.2px #1A1A1A;">158</div>
<div style="left:431.54px;top:290.69px;width:25.40px;height:14.50px;background:#C8C8C9;"></div>
<div class="t" style="left:244.24px;width:400px;text-align:center;top:299.09px;font-size:7.5px;font-weight:700;color:#1A1A1A;letter-spacing:0.15px;-webkit-text-stroke:0.2px #1A1A1A;">160</div>
<div style="left:458.42px;top:290.69px;width:25.40px;height:14.50px;background:#E6E6E7;"></div>
<div class="t" style="left:271.12px;width:400px;text-align:center;top:299.09px;font-size:7.5px;font-weight:700;color:#1A1A1A;letter-spacing:0.15px;-webkit-text-stroke:0.2px #1A1A1A;">162</div>
<div style="left:485.30px;top:290.69px;width:25.40px;height:14.50px;background:#C8C8C9;"></div>
<div class="t" style="left:298.00px;width:400px;text-align:center;top:299.09px;font-size:7.5px;font-weight:700;color:#1A1A1A;letter-spacing:0.15px;-webkit-text-stroke:0.2px #1A1A1A;">164</div>
<div style="left:512.18px;top:290.69px;width:25.40px;height:14.50px;background:#E6E6E7;"></div>
<div class="t" style="left:324.88px;width:400px;text-align:center;top:299.09px;font-size:7.5px;font-weight:700;color:#1A1A1A;letter-spacing:0.15px;-webkit-text-stroke:0.2px #1A1A1A;">166</div>
<div style="left:539.06px;top:290.69px;width:25.40px;height:14.50px;background:#C8C8C9;"></div>
<div class="t" style="left:351.76px;width:400px;text-align:center;top:299.09px;font-size:7.5px;font-weight:700;color:#1A1A1A;letter-spacing:0.15px;-webkit-text-stroke:0.2px #1A1A1A;">168</div>
<div style="left:565.94px;top:290.69px;width:25.40px;height:14.50px;background:#E6E6E7;"></div>
<div class="t" style="left:378.64px;width:400px;text-align:center;top:299.09px;font-size:7.5px;font-weight:700;color:#1A1A1A;letter-spacing:0.15px;-webkit-text-stroke:0.2px #1A1A1A;">170</div>
<div style="left:28.00px;top:306.82px;width:106.00px;height:14.50px;background:#FFD400;"></div>
<div class="t" style="left:32.60px;top:314.16px;font-size:7.4px;font-weight:400;color:#2B2B2B;letter-spacing:0.1px;">Extra Long</div>
<div style="left:135.80px;top:306.82px;width:38.70px;height:14.50px;background:#FFD400;"></div>
<div class="t" style="left:-44.85px;width:400px;text-align:center;top:314.72px;font-size:7.5px;font-weight:400;color:#2B2B2B;letter-spacing:0.12px;">94</div>
<div style="left:176.20px;top:306.82px;width:38.80px;height:14.50px;background:#FFD400;"></div>
<div class="t" style="left:-4.40px;width:400px;text-align:center;top:314.72px;font-size:7.5px;font-weight:400;color:#2B2B2B;letter-spacing:0.12px;">(37&#8221;)</div>
<div style="left:216.50px;top:306.82px;width:25.40px;height:14.50px;background:#C8C8C9;"></div>
<div class="t" style="left:29.20px;width:400px;text-align:center;top:315.22px;font-size:7.5px;font-weight:700;color:#1A1A1A;letter-spacing:0.15px;-webkit-text-stroke:0.2px #1A1A1A;">244</div>
<div style="left:243.38px;top:306.82px;width:25.40px;height:14.50px;background:#E6E6E7;"></div>
<div class="t" style="left:56.08px;width:400px;text-align:center;top:315.22px;font-size:7.5px;font-weight:700;color:#1A1A1A;letter-spacing:0.15px;-webkit-text-stroke:0.2px #1A1A1A;">246</div>
<div style="left:270.26px;top:306.82px;width:25.40px;height:14.50px;background:#C8C8C9;"></div>
<div class="t" style="left:82.96px;width:400px;text-align:center;top:315.22px;font-size:7.5px;font-weight:700;color:#1A1A1A;letter-spacing:0.15px;-webkit-text-stroke:0.2px #1A1A1A;">248</div>
<div style="left:297.14px;top:306.82px;width:25.40px;height:14.50px;background:#E6E6E7;"></div>
<div class="t" style="left:109.84px;width:400px;text-align:center;top:315.22px;font-size:7.5px;font-weight:700;color:#1A1A1A;letter-spacing:0.15px;-webkit-text-stroke:0.2px #1A1A1A;">250</div>
<div style="left:324.02px;top:306.82px;width:25.40px;height:14.50px;background:#C8C8C9;"></div>
<div class="t" style="left:136.72px;width:400px;text-align:center;top:315.22px;font-size:7.5px;font-weight:700;color:#1A1A1A;letter-spacing:0.15px;-webkit-text-stroke:0.2px #1A1A1A;">252</div>
<div style="left:350.90px;top:306.82px;width:25.40px;height:14.50px;background:#E6E6E7;"></div>
<div class="t" style="left:163.60px;width:400px;text-align:center;top:315.22px;font-size:7.5px;font-weight:700;color:#1A1A1A;letter-spacing:0.15px;-webkit-text-stroke:0.2px #1A1A1A;">254</div>
<div style="left:377.78px;top:306.82px;width:25.40px;height:14.50px;background:#C8C8C9;"></div>
<div class="t" style="left:190.48px;width:400px;text-align:center;top:315.22px;font-size:7.5px;font-weight:700;color:#1A1A1A;letter-spacing:0.15px;-webkit-text-stroke:0.2px #1A1A1A;">256</div>
<div style="left:404.66px;top:306.82px;width:25.40px;height:14.50px;background:#E6E6E7;"></div>
<div class="t" style="left:217.36px;width:400px;text-align:center;top:315.22px;font-size:7.5px;font-weight:700;color:#1A1A1A;letter-spacing:0.15px;-webkit-text-stroke:0.2px #1A1A1A;">258</div>
<div style="left:431.54px;top:306.82px;width:25.40px;height:14.50px;background:#C8C8C9;"></div>
<div class="t" style="left:244.24px;width:400px;text-align:center;top:315.22px;font-size:7.5px;font-weight:700;color:#1A1A1A;letter-spacing:0.15px;-webkit-text-stroke:0.2px #1A1A1A;">260</div>
<div style="left:458.42px;top:306.82px;width:25.40px;height:14.50px;background:#E6E6E7;"></div>
<div class="t" style="left:271.12px;width:400px;text-align:center;top:315.22px;font-size:7.5px;font-weight:700;color:#1A1A1A;letter-spacing:0.15px;-webkit-text-stroke:0.2px #1A1A1A;">262</div>
<div style="left:485.30px;top:306.82px;width:25.40px;height:14.50px;background:#C8C8C9;"></div>
<div class="t" style="left:298.00px;width:400px;text-align:center;top:315.22px;font-size:7.5px;font-weight:700;color:#1A1A1A;letter-spacing:0.15px;-webkit-text-stroke:0.2px #1A1A1A;">264</div>
<div style="left:512.18px;top:306.82px;width:25.40px;height:14.50px;background:#E6E6E7;"></div>
<div class="t" style="left:324.88px;width:400px;text-align:center;top:315.22px;font-size:7.5px;font-weight:700;color:#1A1A1A;letter-spacing:0.15px;-webkit-text-stroke:0.2px #1A1A1A;">266</div>
<div style="left:539.06px;top:306.82px;width:25.40px;height:14.50px;background:#C8C8C9;"></div>
<div class="t" style="left:351.76px;width:400px;text-align:center;top:315.22px;font-size:7.5px;font-weight:700;color:#1A1A1A;letter-spacing:0.15px;-webkit-text-stroke:0.2px #1A1A1A;">268</div>
<div style="left:565.94px;top:306.82px;width:25.40px;height:14.50px;background:#E6E6E7;"></div>
<div class="t" style="left:378.64px;width:400px;text-align:center;top:315.22px;font-size:7.5px;font-weight:700;color:#1A1A1A;letter-spacing:0.15px;-webkit-text-stroke:0.2px #1A1A1A;">270</div>
<div style="left:241.84px;top:240.70px;width:28.48px;height:1.60px;background:#1FA6E0;"></div>
<div style="left:241.84px;top:240.70px;width:1.60px;height:17.72px;background:#1FA6E0;"></div>
<div style="left:268.72px;top:240.70px;width:28.48px;height:1.60px;background:#1FA6E0;"></div>
<div style="left:295.60px;top:240.70px;width:28.48px;height:1.60px;background:#1FA6E0;"></div>
<div style="left:322.48px;top:240.70px;width:28.48px;height:1.60px;background:#1FA6E0;"></div>
<div style="left:349.36px;top:240.70px;width:28.48px;height:1.60px;background:#1FA6E0;"></div>
<div style="left:376.24px;top:240.70px;width:28.48px;height:1.60px;background:#1FA6E0;"></div>
<div style="left:403.12px;top:240.70px;width:1.60px;height:17.72px;background:#1FA6E0;"></div>
<div style="left:214.96px;top:256.81px;width:28.48px;height:1.60px;background:#1FA6E0;"></div>
<div style="left:214.96px;top:256.81px;width:1.60px;height:17.73px;background:#1FA6E0;"></div>
<div style="left:403.12px;top:256.81px;width:28.48px;height:1.60px;background:#1FA6E0;"></div>
<div style="left:430.00px;top:256.81px;width:28.48px;height:1.60px;background:#1FA6E0;"></div>
<div style="left:456.88px;top:256.81px;width:28.48px;height:1.60px;background:#1FA6E0;"></div>
<div style="left:483.76px;top:256.81px;width:1.60px;height:17.73px;background:#1FA6E0;"></div>
<div style="left:214.96px;top:289.07px;width:28.48px;height:1.60px;background:#1FA6E0;"></div>
<div style="left:214.96px;top:272.94px;width:1.60px;height:17.73px;background:#1FA6E0;"></div>
<div style="left:483.76px;top:272.94px;width:28.48px;height:1.60px;background:#1FA6E0;"></div>
<div style="left:483.76px;top:289.07px;width:28.48px;height:1.60px;background:#1FA6E0;"></div>
<div style="left:510.64px;top:272.94px;width:1.60px;height:17.73px;background:#1FA6E0;"></div>
<div style="left:241.84px;top:305.20px;width:28.48px;height:1.60px;background:#1FA6E0;"></div>
<div style="left:241.84px;top:289.07px;width:1.60px;height:17.73px;background:#1FA6E0;"></div>
<div style="left:268.72px;top:305.20px;width:28.48px;height:1.60px;background:#1FA6E0;"></div>
<div style="left:430.00px;top:305.20px;width:28.48px;height:1.60px;background:#1FA6E0;"></div>
<div style="left:456.88px;top:305.20px;width:28.48px;height:1.60px;background:#1FA6E0;"></div>
<div style="left:483.76px;top:289.07px;width:1.60px;height:17.73px;background:#1FA6E0;"></div>
<div style="left:295.60px;top:321.33px;width:28.48px;height:1.60px;background:#1FA6E0;"></div>
<div style="left:295.60px;top:305.20px;width:1.60px;height:17.73px;background:#1FA6E0;"></div>
<div style="left:322.48px;top:321.33px;width:28.48px;height:1.60px;background:#1FA6E0;"></div>
<div style="left:349.36px;top:321.33px;width:28.48px;height:1.60px;background:#1FA6E0;"></div>
<div style="left:376.24px;top:321.33px;width:28.48px;height:1.60px;background:#1FA6E0;"></div>
<div style="left:403.12px;top:321.33px;width:28.48px;height:1.60px;background:#1FA6E0;"></div>
<div style="left:430.00px;top:305.20px;width:1.60px;height:17.73px;background:#1FA6E0;"></div>
<div class="t" style="left:32.40px;top:329.94px;font-size:7.4px;font-weight:400;color:#454545;letter-spacing:0.15px;white-space:nowrap;"><b>* Closest corresponding jeans size.</b> Sizes within the blue frame are Standard Stock Items which are available for most of our Trousers - see specific garment for</div>
<div class="t" style="left:32.40px;top:339.24px;font-size:7.4px;font-weight:400;color:#454545;letter-spacing:0.07px;white-space:nowrap;">current size range. SHORTS are available in Regular length. PIRATES are available in Short and Regular lengths.</div>
</body></html>
